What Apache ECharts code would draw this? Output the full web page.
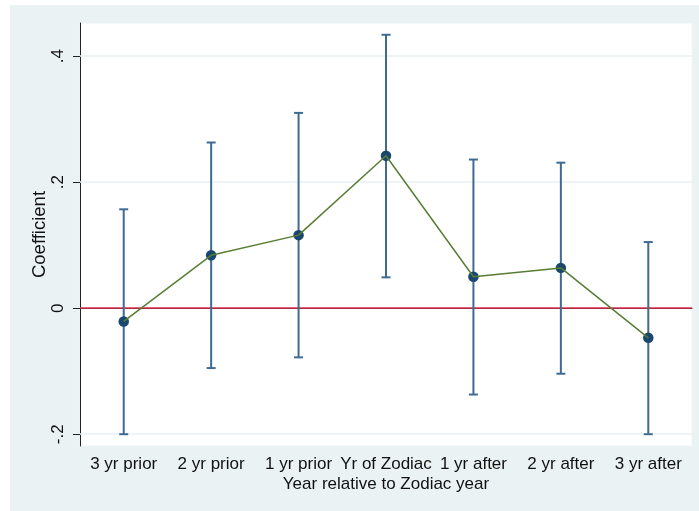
<!DOCTYPE html>
<html>
<head>
<meta charset="utf-8">
<script src="https://cdn.jsdelivr.net/npm/echarts@6/dist/echarts.min.js"></script>
<style>
html,body{margin:0;padding:0;background:#fff;}
#chart{width:699px;height:511px;}
</style>
</head>
<body>
<div id="chart"></div>
<script>
const categories = ['3 yr prior', '2 yr prior', '1 yr prior', 'Yr of Zodiac', '1 yr after', '2 yr after', '3 yr after'];
const coef = [-0.021, 0.084, 0.116, 0.242, 0.050, 0.064, -0.047];
const ciLow = [-0.200, -0.095, -0.078, 0.049, -0.137, -0.104, -0.200];
const ciHigh = [0.157, 0.263, 0.310, 0.434, 0.236, 0.231, 0.105];
const yTickValues = [-0.2, 0, 0.2, 0.4];
const yTickLabels = ['-.2', '0', '.2', '.4'];
const xTitle = 'Year relative to Zodiac year';
const yTitle = 'Coefficient';

const FONT = '"Liberation Sans", Arial, Helvetica, sans-serif';
const barColor = '#3f6a94';

const chart = echarts.init(document.getElementById('chart'), null, {renderer: 'canvas'});
const option = {
  backgroundColor: '#fff',
  animation: false,
  graphic: [{
    type: 'rect', silent: true, z: -100,
    shape: {x: 10, y: 5, width: 689, height: 506},
    style: {fill: '#eaf2f3'}
  }],
  grid: {
    left: 80, right: 7, top: 23, bottom: 65,
    show: true, backgroundColor: '#fff', borderColor: '#eef4f5', borderWidth: 1
  },
  xAxis: {
    type: 'category',
    data: categories,
    boundaryGap: true,
    axisLine: {lineStyle: {color: '#222', width: 1}},
    axisTick: {alignWithLabel: true, length: 5, lineStyle: {color: '#222'}},
    axisLabel: {color: '#111', fontFamily: FONT, fontSize: 17, margin: 10, interval: 0},
    splitLine: {show: false},
    name: xTitle,
    nameLocation: 'middle',
    nameGap: 30,
    nameMoveOverlap: false,
    nameTextStyle: {color: '#111', fontFamily: FONT, fontSize: 17}
  },
  yAxis: {
    type: 'value',
    min: -0.2187,
    max: 0.4527,
    axisLine: {show: true, lineStyle: {color: '#222', width: 1}},
    axisTick: {show: true, length: 7, customValues: yTickValues, lineStyle: {color: '#222'}},
    axisLabel: {
      customValues: yTickValues,
      rotate: 90,
      margin: 13,
      color: '#111', fontFamily: FONT, fontSize: 17,
      formatter: function (v) {
        const i = yTickValues.findIndex(t => Math.abs(t - v) < 1e-9);
        return i >= 0 ? yTickLabels[i] : '';
      }
    },
    splitLine: {show: false},
    name: yTitle,
    nameLocation: 'middle',
    nameRotate: 90,
    nameGap: 31,
    nameMoveOverlap: false,
    nameTextStyle: {color: '#111', fontFamily: FONT, fontSize: 18.5}
  },
  series: [
    {
      type: 'line', data: [], silent: true, z: 1,
      markLine: {
        z: 1,
        silent: true, symbol: 'none', label: {show: false},
        lineStyle: {color: '#e8f0f2', width: 1.5, type: 'solid'},
        data: yTickValues.filter(v => v !== 0).map(v => ({yAxis: v}))
      }
    },
    {
      type: 'line', data: [], silent: true, z: 2,
      markLine: {
        z: 2,
        silent: true, symbol: 'none', label: {show: false},
        lineStyle: {color: '#dc2e4c', width: 1.5, type: 'solid'},
        data: [{yAxis: 0}]
      }
    },
    {
      type: 'custom', z: 3, silent: true,
      data: categories.map((c, i) => [i, ciLow[i], ciHigh[i]]),
      encode: {x: 0, y: [1, 2]},
      renderItem: function (params, api) {
        const x = api.value(0);
        const lo = api.coord([x, api.value(1)]);
        const hi = api.coord([x, api.value(2)]);
        const hw = 4.5;
        const st = {stroke: barColor, lineWidth: 2};
        return {
          type: 'group',
          children: [
            {type: 'line', shape: {x1: lo[0], y1: lo[1], x2: hi[0], y2: hi[1]}, style: st},
            {type: 'line', shape: {x1: lo[0] - hw, y1: lo[1], x2: lo[0] + hw, y2: lo[1]}, style: st},
            {type: 'line', shape: {x1: hi[0] - hw, y1: hi[1], x2: hi[0] + hw, y2: hi[1]}, style: st}
          ]
        };
      }
    },
    {
      type: 'scatter', z: 4, silent: true,
      data: coef,
      symbol: 'circle', symbolSize: 10.5,
      itemStyle: {color: '#1a476f', opacity: 1}
    },
    {
      type: 'line', z: 5, silent: true,
      data: coef,
      showSymbol: false, symbol: 'none',
      lineStyle: {color: '#587d34', width: 1.5}
    }
  ]
};
chart.setOption(option);
</script>
</body>
</html>
